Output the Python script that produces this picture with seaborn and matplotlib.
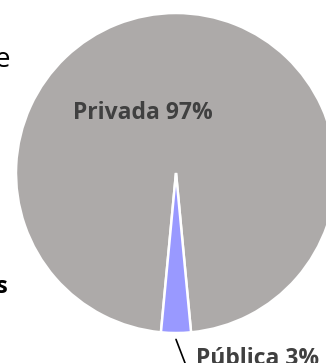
import numpy as np
import pandas as pd
import matplotlib
matplotlib.use("Agg")
import matplotlib.pyplot as plt
import seaborn as sns

categories = ["Privada", "Pública"]
values = [97, 3]
colors = ["#ADAAA9", "#9999FF"]
labels = ["Privada 97%", "Pública 3%"]
side_texts = ["e", "s"]

sns.set_style("white")
plt.rcParams["font.family"] = ["Open Sans", "DejaVu Sans"]

fig = plt.figure(figsize=(3.26, 3.63), dpi=100)
ax = fig.add_axes([0, 0, 1, 1])
ax.set_xlim(-1.1, 0.9375)
ax.set_ylim(-1.1875, 1.08125)
ax.axis("off")

pal = sns.color_palette(colors)
start = 270 - 360 * values[1] / sum(values) / 2 - 360 * values[0] / sum(values)
wedges, _ = ax.pie(values, colors=pal, startangle=start, counterclock=True,
                   radius=1.0, center=(0, 0), frame=True,
                   wedgeprops=dict(edgecolor="white", linewidth=1.8))
ax.set_xlim(-1.1, 0.9375)
ax.set_ylim(-1.1875, 1.08125)
ax.axis("off")

ax.text(-0.209, 0.375, labels[0], ha="center", va="center", fontsize=16.5,
        fontweight="bold", color="#404040")

w = wedges[1]
mid = np.deg2rad((w.theta1 + w.theta2) / 2)
p0 = (1.04 * np.cos(mid), 1.04 * np.sin(mid))
ax.plot([p0[0], p0[0] + 0.065], [p0[1], p0[1] - 0.17], color="black", lw=1.2,
        clip_on=False)
ax.text(0.125, -1.2, labels[1], ha="left", va="baseline", fontsize=16.5,
        fontweight="bold", color="#404040")

fig.text(9.5 / 326, 1 - 67 / 363, side_texts[0], ha="right", va="baseline",
         fontsize=20, color="black")
fig.text(8 / 326, 1 - 293 / 363, side_texts[1], ha="right", va="baseline",
         fontsize=17, fontweight="bold", color="black")

fig.savefig("out.png", dpi=100)
